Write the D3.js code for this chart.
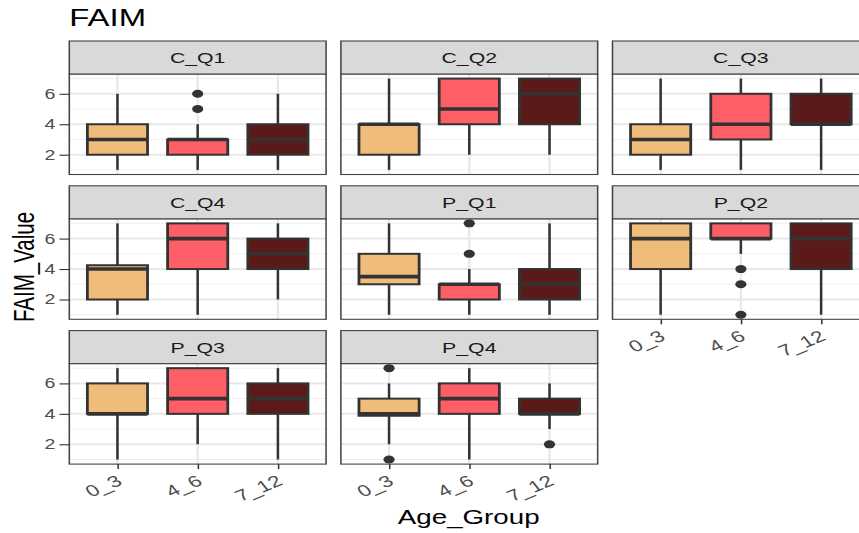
<!DOCTYPE html>
<html>
<head>
<meta charset="utf-8">
<script src="https://cdn.jsdelivr.net/npm/d3@7/dist/d3.min.js"></script>
<style>
  html, body { margin: 0; padding: 0; background: #ffffff; }
  svg { display: block; font-family: "Liberation Sans", Arial, sans-serif; }
</style>
</head>
<body>
<svg id="chart" width="859" height="533"></svg>
<script>
// ---------------- data ----------------
const facets = ["C_Q1", "C_Q2", "C_Q3", "C_Q4", "P_Q1", "P_Q2", "P_Q3", "P_Q4"];
const ageGroups = ["0_3", "4_6", "7_12"];
const yTicks = [2, 4, 6];
const yMinor = [1, 3, 5, 7];
// per facet, per age group: [0_3, 4_6, 7_12]
const whiskerLow = [[1,1,1],[1,2,2],[1,1,1],[1,1,2],[1,1,1],[1,5,1],[1,2,1],[2,1,3]];
const q1         = [[2,2,2],[2,4,4],[2,3,4],[2,4,4],[3,2,2],[4,6,4],[4,4,4],[3.875,4,4]];
const median     = [[3,3,3],[4,5,6],[3,4,4],[4,6,5],[3.5,3,3],[6,6,6],[4,5,5],[4,5,4]];
const q3         = [[4,3,4],[4,7,7],[4,6,6],[4.25,7,6],[5,3,4],[7,7,7],[6,7,6],[5,6,5]];
const whiskerHigh= [[6,4,6],[7,7,7],[7,7,7],[7,7,7],[7,4,7],[7,7,7],[7,7,7],[6,7,6]];
const outliers   = [[[],[5,6],[]],[[],[],[]],[[],[],[]],[[],[],[]],[[],[5,7],[]],[[],[4,3,1],[]],[[],[],[]],[[7,1],[],[2]]];
const fillColors = ["#F0BC79", "#FE5F66", "#5B1A1A"];

// ---------------- layout ----------------
const S = 1.4; // horizontal stretch of the picture
const svg = d3.select("#chart");
const g = svg.append("g").attr("transform", `scale(${S},1)`);

const panelX0 = 49.5, panelW = 183.4, colGap = 10.6;
const rowTop0 = 41, stripH = 33, panelH = 100.5, rowStep = 144.8;

const x = d3.scalePoint().domain(ageGroups).range([0, panelW]).padding(0.6);
const boxW = x.step() * 0.75;

// title
g.append("text").attr("x", 49.5).attr("y", 26.5)
  .attr("font-size", 23.5).attr("fill", "#000").text("FAIM");

facets.forEach((f, i) => {
  const col = i % 3, row = Math.floor(i / 3);
  const px = panelX0 + col * (panelW + colGap);
  const sy = rowTop0 + row * rowStep;
  const py = sy + stripH;
  const y = d3.scaleLinear().domain([0.7, 7.3]).range([py + panelH, py]);

  const p = g.append("g").attr("transform", `translate(${px},0)`);

  // panel background
  p.append("rect").attr("x", 0).attr("y", py).attr("width", panelW).attr("height", panelH)
    .attr("fill", "#fff");
  // minor grid
  p.selectAll(".minor").data(yMinor).join("line")
    .attr("x1", 0).attr("x2", panelW).attr("y1", d => y(d)).attr("y2", d => y(d))
    .attr("stroke", "#efefef").attr("stroke-width", 1);
  // major grid
  p.selectAll(".majorY").data(yTicks).join("line")
    .attr("x1", 0).attr("x2", panelW).attr("y1", d => y(d)).attr("y2", d => y(d))
    .attr("stroke", "#e8e8e8").attr("stroke-width", 2);
  p.selectAll(".majorX").data(ageGroups).join("line")
    .attr("x1", d => x(d)).attr("x2", d => x(d)).attr("y1", py).attr("y2", py + panelH)
    .attr("stroke", "#e8e8e8").attr("stroke-width", 1.6);

  // boxes
  ageGroups.forEach((a, j) => {
    const cx = x(a);
    const bg = p.append("g");
    bg.append("line").attr("x1", cx).attr("x2", cx)
      .attr("y1", y(whiskerHigh[i][j])).attr("y2", y(q3[i][j]))
      .attr("stroke", "#333").attr("stroke-width", 1.8);
    bg.append("line").attr("x1", cx).attr("x2", cx)
      .attr("y1", y(q1[i][j])).attr("y2", y(whiskerLow[i][j]))
      .attr("stroke", "#333").attr("stroke-width", 1.8);
    bg.append("rect").attr("x", cx - boxW / 2).attr("width", boxW)
      .attr("y", y(q3[i][j])).attr("height", y(q1[i][j]) - y(q3[i][j]))
      .attr("fill", fillColors[j]).attr("stroke", "#333").attr("stroke-width", 2);
    bg.append("line").attr("x1", cx - boxW / 2).attr("x2", cx + boxW / 2)
      .attr("y1", y(median[i][j])).attr("y2", y(median[i][j]))
      .attr("stroke", "#333").attr("stroke-width", 3.6);
    bg.selectAll("circle").data(outliers[i][j]).join("circle")
      .attr("cx", cx).attr("cy", d => y(d)).attr("r", 4).attr("fill", "#333");
  });

  // panel border
  p.append("rect").attr("x", 0).attr("y", py).attr("width", panelW).attr("height", panelH)
    .attr("fill", "none").attr("stroke", "#444").attr("stroke-width", 1.1);

  // strip
  p.append("rect").attr("x", 0).attr("y", sy).attr("width", panelW).attr("height", stripH)
    .attr("fill", "#d9d9d9").attr("stroke", "#444").attr("stroke-width", 1.1);
  p.append("text").attr("x", panelW / 2).attr("y", sy + stripH / 2 + 5.5)
    .attr("text-anchor", "middle").attr("font-size", 15.2).attr("fill", "#1a1a1a").text(f);

  // y axis
  if (col === 0) {
    const ya = p.append("g").call(d3.axisLeft(y).tickValues(yTicks).tickSize(7).tickPadding(3).tickFormat(d3.format("d")));
    ya.select(".domain").remove();
    ya.selectAll(".tick line").attr("stroke", "#333").attr("stroke-width", 1.1);
    ya.selectAll(".tick text").attr("font-size", 14).attr("fill", "#4d4d4d")
      .attr("font-family", "Liberation Sans, Arial, sans-serif");
  }
  // x axis
  if (i + 3 >= facets.length) {
    const xa = p.append("g").attr("transform", `translate(0,${py + panelH})`)
      .call(d3.axisBottom(x).tickSize(5).tickPadding(2));
    xa.select(".domain").remove();
    xa.selectAll(".tick line").attr("stroke", "#333").attr("stroke-width", 1.1);
    xa.selectAll(".tick text")
      .attr("font-size", 16).attr("fill", "#4d4d4d")
      .attr("font-family", "Liberation Sans, Arial, sans-serif")
      .attr("text-anchor", "end").attr("dy", null).attr("y", null)
      .attr("transform", "translate(3.8,20) rotate(-30)");
  }
});

// axis titles
g.append("text").attr("transform", `translate(24,267) rotate(-90)`)
  .attr("text-anchor", "middle").attr("font-size", 20.5).attr("fill", "#000").text("FAIM_Value");
g.append("text").attr("x", 334.8).attr("y", 524)
  .attr("text-anchor", "middle").attr("font-size", 19.8).attr("fill", "#000").text("Age_Group");
</script>
</body>
</html>
